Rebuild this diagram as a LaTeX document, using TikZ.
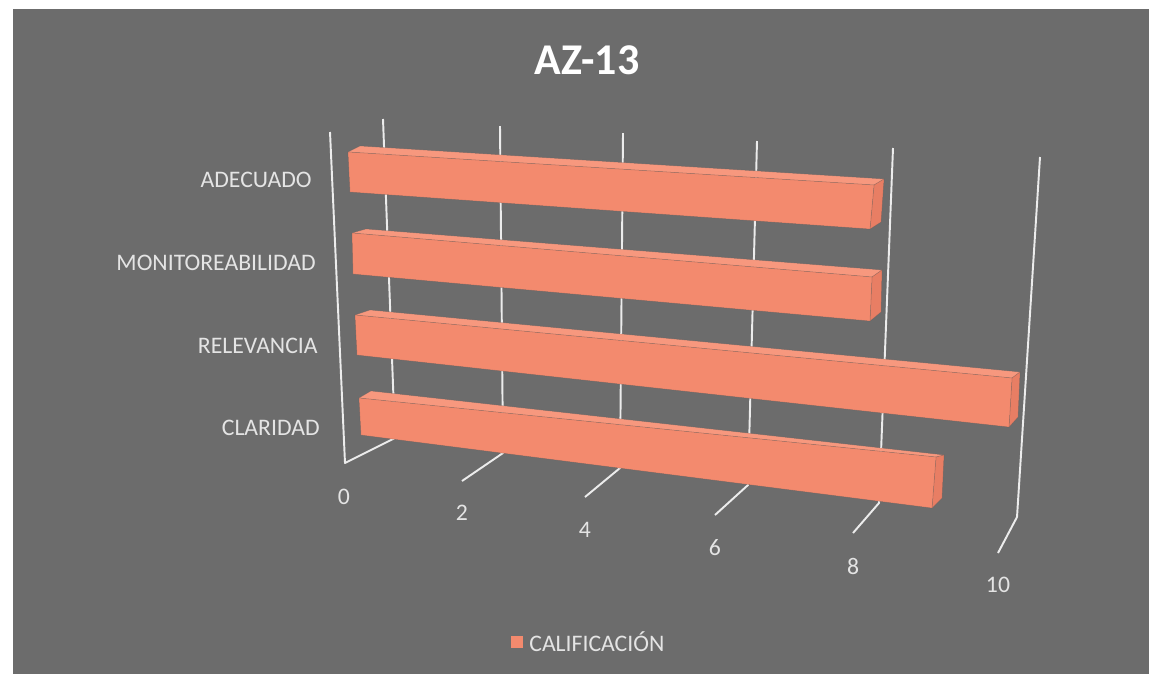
\documentclass[tikz,border=0pt]{standalone}
\usepackage{fontspec}
\setmainfont{Carlito}
\usetikzlibrary{calc}
\begin{document}
\begin{tikzpicture}[x=0.02cm,y=-0.02cm]
\definecolor{bg}{RGB}{108,108,108}
\definecolor{barfront}{RGB}{243,138,110}
\definecolor{bartop}{RGB}{247,152,126}
\definecolor{barend}{RGB}{232,126,100}
\definecolor{gridc}{RGB}{236,236,236}
\definecolor{lbl}{RGB}{228,228,228}
\definecolor{shade}{RGB}{80,80,80}
\tikzset{
  gridline/.style={draw=gridc,line width=1.1pt,line join=round},
  catlabel/.style={text=lbl,font=\fontsize{13.5}{16}\selectfont,anchor=east,inner sep=0pt},
  vallabel/.style={text=lbl,font=\fontsize{13.5}{16}\selectfont,inner sep=0pt},
  barface/.style={draw=shade,draw opacity=0.3,line width=0.3pt,line join=round}
}
\useasboundingbox (0,0) rectangle (1149,674);
\fill[white] (0,0) rectangle (1149,674);
\fill[bg] (13,9) rectangle (1149,674);

% grid coordinates: back wall top, back wall bottom, front floor
\coordinate (w0) at (330,132);
\coordinate (f0) at (345,463);
\coordinate (t0) at (383,119); \coordinate (b0) at (395,438);
\coordinate (t2) at (500,126); \coordinate (b2) at (503,453); \coordinate (f2) at (462,481);
\coordinate (t4) at (623,133); \coordinate (b4) at (620,468); \coordinate (f4) at (585,497);
\coordinate (t6) at (757,141); \coordinate (b6) at (748,485); \coordinate (f6) at (715,515);
\coordinate (t8) at (893,148); \coordinate (b8) at (879,503); \coordinate (f8) at (853,533);
\coordinate (t10) at (1040,157); \coordinate (b10) at (1017,517); \coordinate (f10) at (998,553);

\draw[gridline] (w0) -- (f0) -- (b0) -- (t0);
\foreach \v in {2,4,6,8,10} \draw[gridline] (t\v) -- (b\v) -- (f\v);

% bars: front TL, front BL, front BR, front TR, back TL, back TR, back BR
\newcommand\chartbar[7]{%
  \filldraw[barface,fill=bartop] #1 -- #5 -- #6 -- #4 -- cycle;
  \filldraw[barface,fill=barend] #4 -- #6 -- #7 -- #3 -- cycle;
  \filldraw[barface,fill=barfront] #1 -- #2 -- #3 -- #4 -- cycle;}
\chartbar{(348,152)}{(350,192)}{(870,229)}{(874,185)}{(360,146)}{(884,179)}{(881,222)}
\chartbar{(352,233)}{(353,274)}{(870,321)}{(872,277)}{(366,229)}{(882,270)}{(881,312)}
\chartbar{(355,315)}{(357,355)}{(1009,427)}{(1012,378)}{(370,310)}{(1020,372)}{(1018,417)}
\chartbar{(359,398)}{(361,435)}{(932,508)}{(936,457)}{(371,391)}{(944,455)}{(942,498)}

% title
\node[text=white,font=\fontsize{25}{29}\selectfont\bfseries,inner sep=0pt] (title) at (587,60) {AZ-13};

% category labels
\node[catlabel] (cat1) at (312,180) {ADECUADO};
\node[catlabel] (cat2) at (316,263) {MONITOREABILIDAD};
\node[catlabel] (cat3) at (318,346) {RELEVANCIA};
\node[catlabel] (cat4) at (320,428) {CLARIDAD};

% value labels
\node[vallabel] (v0) at (344,497) {0};
\node[vallabel] (v2) at (462,513) {2};
\node[vallabel] (v4) at (585,530) {4};
\node[vallabel] (v6) at (715,548) {6};
\node[vallabel] (v8) at (853,566) {8};
\node[vallabel] (v10) at (998,585) {10};

% legend
\node[fill=barfront,minimum size=0.24cm,inner sep=0pt] (legsq) at (517,642) {};
\node[text=lbl,font=\fontsize{13.5}{16}\selectfont,anchor=west,inner sep=0pt] (legtxt) at (529,642) {CALIFICACIÓN};
\end{tikzpicture}
\end{document}
